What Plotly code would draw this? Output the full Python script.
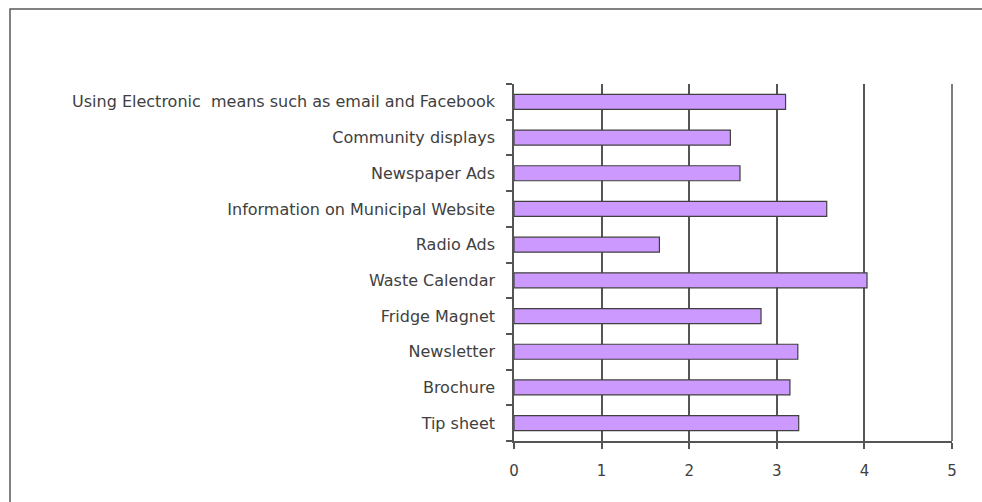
import plotly.graph_objects as go

categories = [
    "Tip sheet",
    "Brochure",
    "Newsletter",
    "Fridge Magnet",
    "Waste Calendar",
    "Radio Ads",
    "Information on Municipal Website",
    "Newspaper Ads",
    "Community displays",
    "Using Electronic  means such as email and Facebook",
]
ratings = [3.25, 3.15, 3.24, 2.82, 4.03, 1.66, 3.57, 2.58, 2.47, 3.10]
x_ticks = [0, 1, 2, 3, 4, 5]

W, H = 982, 502
L, R, T, B = 514, 30, 84, 61
pw, ph = W - L - R, H - T - B

def px_x(p):
    return (p - L) / pw

def px_y(p):
    return (H - B - p) / ph

font_family = "DejaVu Sans, Liberation Sans, sans-serif"
txt = "#404040"
grid = "#555555"

fig = go.Figure()
fig.add_trace(go.Bar(
    y=categories,
    x=ratings,
    orientation="h",
    marker=dict(color="#CC99FF", line=dict(color="#404040", width=1.2)),
    width=0.42,
    hoverinfo="x+y",
))

fig.update_layout(
    width=W, height=H,
    margin=dict(l=L, r=R, t=T, b=B, pad=0),
    paper_bgcolor="white",
    plot_bgcolor="white",
    showlegend=False,
    font=dict(family=font_family, size=14, color=txt),
    xaxis=dict(
        range=[x_ticks[0], x_ticks[-1]],
        tickvals=x_ticks,
        ticktext=[str(v) for v in x_ticks],
        showgrid=True, gridcolor=grid, gridwidth=1.5,
        zeroline=False,
        showline=True, linecolor=grid, linewidth=1.5,
        ticks="outside", ticklen=6, tickcolor=grid, tickwidth=1.5,
        tickfont=dict(size=15, color=txt),
        ticklabelstandoff=9,
        fixedrange=True,
    ),
    yaxis=dict(
        type="category",
        categoryorder="array", categoryarray=categories,
        range=[-0.5, len(categories) - 0.5],
        tickson="boundaries",
        showgrid=False,
        showline=True, linecolor=grid, linewidth=1.5,
        ticks="outside", ticklen=6, tickcolor=grid, tickwidth=1.5,
        tickfont=dict(size=16, color=txt),
        ticklabelstandoff=14,
        fixedrange=True,
    ),
    shapes=[
        dict(
            type="rect", xref="paper", yref="paper",
            x0=px_x(10), x1=px_x(1000), y0=px_y(520), y1=px_y(9),
            line=dict(color="#595959", width=1.5), fillcolor="rgba(0,0,0,0)",
            layer="below",
        ),
        dict(
            type="line", xref="paper", yref="paper",
            x0=1, x1=1, y0=0, y1=1,
            line=dict(color=grid, width=1.5), layer="below",
        ),
    ],
)

fig.write_html(
    "out.html",
    config={"displayModeBar": False},
    post_script="document.body.style.margin='0';document.body.style.overflow='hidden';",
)
